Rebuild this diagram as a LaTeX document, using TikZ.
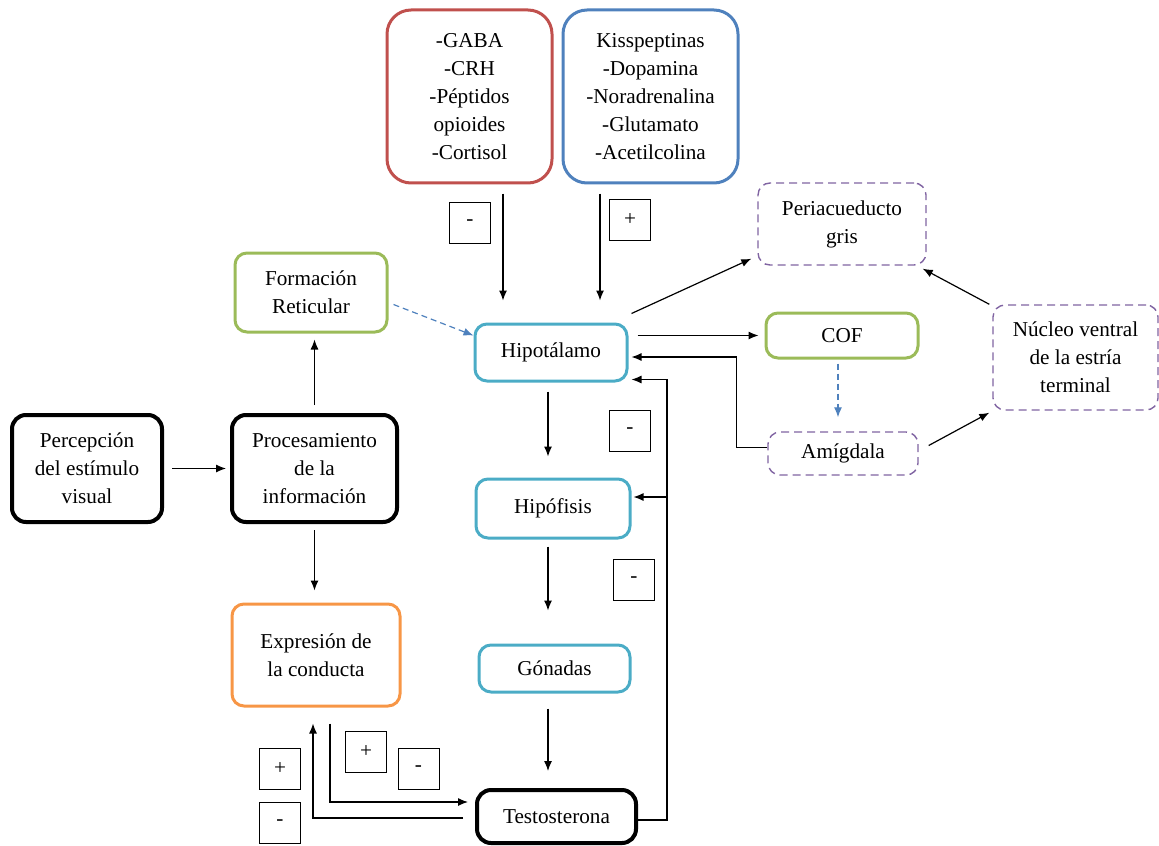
\documentclass[tikz,border=0pt]{standalone}
\usepackage{fontspec}
\setmainfont{Liberation Serif}
\usepackage{tikz}
\usetikzlibrary{calc,arrows.meta}

\definecolor{redbox}{HTML}{C0504D}
\definecolor{bluebox}{HTML}{4F81BD}
\definecolor{greenbox}{HTML}{9BBB59}
\definecolor{cyanbox}{HTML}{4BACC6}
\definecolor{orangebox}{HTML}{F79646}
\definecolor{purplebox}{HTML}{8064A2}

\begin{document}
\begin{tikzpicture}[x=0.5pt, y=-0.5pt,
  txt/.style={align=center, font=\fontsize{10.6}{14}\selectfont, inner sep=2pt},
  bigbox/.style={txt, draw, line width=1.5pt, rounded corners=12pt},
  colbox/.style={txt, draw, line width=1.5pt, rounded corners=6pt},
  blkbox/.style={txt, draw=black, line width=2pt, rounded corners=7pt},
  dashbox/.style={txt, draw=purplebox, line width=0.7pt, dash pattern=on 4pt off 2.5pt, rounded corners=6pt},
  sign/.style={txt, draw, line width=0.5pt, minimum width=20.5pt, minimum height=20.5pt},
  arr/.style={-{Latex[length=5pt,width=4pt]}, line width=0.6pt},
  darr/.style={-{Latex[length=5pt,width=4pt]}, line width=0.6pt, color=bluebox, dash pattern=on 3pt off 2pt}]
\useasboundingbox (0,0) rectangle (1159,845);

%upper inputs
\node[bigbox, draw=redbox, minimum width=82.5pt, minimum height=86.5pt] (gaba) at (469.5,96.5)
  {-GABA\\-CRH\\-Péptidos\\opioides\\-Cortisol};
\node[bigbox, draw=bluebox, minimum width=87.5pt, minimum height=86.5pt] (kiss) at (650.5,96.5)
  {Kisspeptinas\\-Dopamina\\-Noradrenalina\\-Glutamato\\-Acetilcolina};

%left column
\node[blkbox, minimum width=75pt, minimum height=53.5pt] (perc) at (87,468.5) {Percepción\\del estímulo\\visual};
\node[blkbox, minimum width=82.5pt, minimum height=53.5pt] (proc) at (314.5,468.5) {Procesamiento\\de la\\información};
\node[colbox, draw=greenbox, minimum width=76pt, minimum height=39.5pt] (form) at (311,292.5) {Formación\\Reticular};
\node[colbox, draw=orangebox, minimum width=84pt, minimum height=51pt] (expr) at (316,655) {Expresión de\\la conducta};

%axis
\node[colbox, draw=cyanbox, minimum width=76pt, minimum height=28.5pt] (hipot) at (551,352.5) {Hipotálamo};
\node[colbox, draw=cyanbox, minimum width=77pt, minimum height=29.5pt] (hipof) at (553,508.5) {Hipófisis};
\node[colbox, draw=cyanbox, minimum width=75.5pt, minimum height=23.5pt] (gon) at (554.5,668.5) {Gónadas};
\node[blkbox, minimum width=79.5pt, minimum height=26.5pt] (testo) at (556.5,816.5) {Testosterona};

%right side
\node[dashbox, minimum width=84pt, minimum height=41pt] (peri) at (842,224) {Periacueducto\\gris};
\node[colbox, draw=greenbox, minimum width=76pt, minimum height=22.5pt] (cof) at (842,335.5) {COF};
\node[dashbox, minimum width=75pt, minimum height=21.5pt] (amig) at (843,453.5) {Amígdala};
\node[dashbox, minimum width=82.5pt, minimum height=52.5pt] (nucleo) at (1075.5,357.5) {Núcleo ventral\\de la estría\\terminal};

%signs
\node[sign] (m1) at (470,223) {-};
\node[sign] (p1) at (630,220) {+};
\node[sign] (m2) at (630,431) {-};
\node[sign] (m3) at (634,580) {-};
\node[sign] (p2) at (280,768.5) {+};
\node[sign] (m4) at (280,822.5) {-};
\node[sign] (p3) at (366,751.5) {+};
\node[sign] (m5) at (418.5,768.5) {-};

%connectors
\draw[arr] ($(gaba.south)+(33.5,9)$) -- ($(hipot.north)+(-48,-22)$);
\draw[arr] ($(kiss.south)+(-50.5,9)$) -- ($(hipot.north)+(49,-22)$);
\draw[arr, shorten <=4pt, shorten >=2pt] (perc) -- (proc);
\draw[arr, shorten <=4pt, shorten >=3pt] (proc.north) -- (proc.north |- form.south);
\draw[arr, shorten <=3pt, shorten >=6pt] (proc.south) -- (proc.south |- expr.north);
\draw[darr] ($(form.east)+(5,12)$) -- ($(hipot.west)+(0,-17)$);
\draw[arr] ($(hipot.north east)+(3,-9)$) -- ($(peri.south west)+(-6,-7)$);
\draw[arr] ($(hipot.east)+(9,-17)$) -- ($(cof.west)+(-6,0)$);
\draw[darr, shorten <=2pt, shorten >=7pt] ($(cof.south)+(-4,0)$) -- ($(amig.north)+(-5,0)$);
\draw[arr] ($(amig.west)+(0,-6)$) -- ++(-31,0) |- ($(hipot.east)+(3,4.5)$);
\draw[arr] ($(amig.east)+(10,-8)$) -- ($(nucleo.south west)+(-3,2)$);
\draw[arr] ($(nucleo.north west)+(-3,0)$) -- ($(peri.south east)+(-4,3)$);

%axis arrows
\draw[arr] ($(hipot.south)+(-3,9)$) -- ($(hipof.north)+(-5,-21)$);
\draw[arr] ($(hipof.south)+(-5,7)$) -- ($(gon.north)+(-6.5,-33)$);
\draw[arr] ($(gon.south)+(-6.5,15)$) -- ($(testo.north)+(-8.5,-17)$);

%feedback
\draw[arr] ($(testo.east)+(0,3.5)$) -- ++(29,0) coordinate (fb) |- ($(hipot.south east)+(3,-3)$);
\draw[arr] (fb |- hipof.east) ++(0,-11.5) coordinate (fbh) -- ($(hipof.east)+(2,-11.5)$);
\draw[arr] ($(expr.south)+(14,16)$) |- ($(testo.west)+(-7,-14.5)$);
\draw[arr] ($(testo.west)+(-12,1.5)$) -| ($(expr.south)+(-3,16)$);
\end{tikzpicture}
\end{document}
